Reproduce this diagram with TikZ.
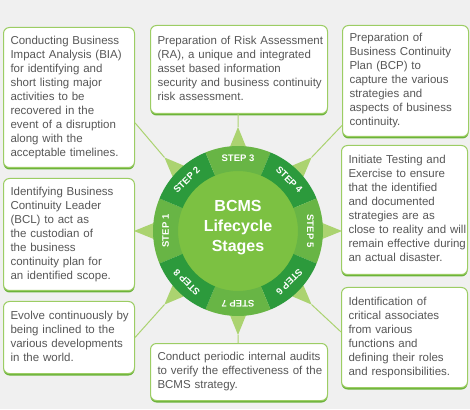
\documentclass[tikz,border=0pt]{standalone}
\usepackage{fontspec}
\setmainfont{Liberation Sans}
\usetikzlibrary{shadows}

\definecolor{bggray}{HTML}{F0F0F0}
\definecolor{boxline}{HTML}{9CCD64}
\definecolor{boxshade}{HTML}{6CB33A}
\definecolor{txtgray}{HTML}{575757}
\definecolor{hubgreen}{HTML}{7CC142}
\definecolor{ringlight}{HTML}{68B545}
\definecolor{ringdark}{HTML}{2C9A3C}
\definecolor{spikegreen}{HTML}{ABD370}

\newcommand{\stagetext}[1]{\begin{tabular}{@{}l@{}}#1\end{tabular}}

\tikzset{
    stage/.style 2 args={draw=boxline, line width=1pt, fill=white, rounded corners=6pt,
        anchor=north west, align=left, text width=#1, minimum height=#2,
        inner xsep=7pt, inner ysep=6pt, text=txtgray,
        font=\fontsize{11.5}{14}\selectfont,
        drop shadow={shadow xshift=0pt, shadow yshift=-2pt, fill=boxshade, opacity=1}},
    steplbl/.style={text=white, font=\bfseries\fontsize{9.5}{11}\selectfont, inner sep=0pt},
    link/.style={spikegreen, line width=1pt}
}

\begin{document}
\begin{tikzpicture}[x=1pt, y=1pt]
        \useasboundingbox (0, 0) rectangle (470, 409);
        \fill[bggray] (0, 0) rectangle (470, 409);

        \begin{scope}[shift={(238, 178)}]
            \foreach \i in {1,...,8} {
                \pgfmathsetmacro{\a}{225 - 45*\i}
                \fill[spikegreen] (\a-8:78) -- (\a:104) -- (\a+8:78) -- cycle;
                \coordinate (tip\i) at (\a:104);
            }
            \fill[hubgreen] (0, 0) circle (62);
            \foreach \i/\c in {1/ringlight,2/ringdark,3/ringlight,4/ringdark,5/ringlight,6/ringdark,7/ringlight,8/ringdark} {
                \pgfmathsetmacro{\a}{225 - 45*\i}
                \fill[\c] (\a-22.5:60) -- (\a-22.5:85) arc[start angle=\a-22.5, end angle=\a+22.5, radius=85]
                    -- (\a+22.5:60) arc[start angle=\a+22.5, end angle=\a-22.5, radius=60] -- cycle;
                \node[steplbl, rotate=\a-90] (step\i) at (\a:72.5) {STEP \i};
            }
            \node[text=white, font=\bfseries\fontsize{16}{20}\selectfont, align=center] (hub) at (0, 3) {BCMS\\Lifecycle\\Stages};
        \end{scope}

        \node[stage={117pt}{140pt}] (bia) at (3, 382) {\stagetext{Conducting Business\\Impact Analysis (BIA)\\for identifying and\\short listing major\\activities to be\\recovered in the\\event of a disruption\\along with the\\acceptable timelines.}};
        \node[stage={163pt}{88pt}] (ra) at (150, 384) {\stagetext{Preparation of Risk Assessment\\(RA), a unique and integrated\\asset based information\\security and business continuity\\risk assessment.}};
        \node[stage={112pt}{111pt}] (bcp) at (342, 384) {\stagetext{Preparation of\\Business Continuity\\Plan (BCP) to\\capture the various\\strategies and\\aspects of business\\continuity.}};
        \node[stage={112pt}{129pt}] (test) at (341, 264) {\stagetext{Initiate Testing and\\Exercise to ensure\\that the identified\\and documented\\strategies are as\\close to reality and will\\remain effective during\\an actual disaster.}};
        \node[stage={112pt}{100pt}] (crit) at (341, 122) {\stagetext{Identification of\\critical associates\\from various\\functions and\\defining their roles\\and responsibilities.}};
        \node[stage={163pt}{57pt}] (audit) at (150, 66) {\stagetext{Conduct periodic internal audits\\to verify the effectiveness of the\\BCMS strategy.}};
        \node[stage={117pt}{72pt}] (evolve) at (3, 108) {\stagetext{Evolve continuously by\\being inclined to the\\various developments\\in the world.}};
        \node[stage={117pt}{112pt}] (bcl) at (3, 231) {\stagetext{Identifying Business\\Continuity Leader\\(BCL) to act as\\the custodian of\\the business\\continuity plan for\\an identified scope.}};

        \draw[link] (tip2) -- (bia.-21);
        \draw[link] (tip3) -- (ra);
        \draw[link] (tip4) -- (bcp.215);
        \draw[link] (tip6) -- (crit.175);
        \draw[link] (tip7) -- (audit);
        \draw[link] (tip8) -- (evolve.east);
    \end{tikzpicture}
\end{document}
